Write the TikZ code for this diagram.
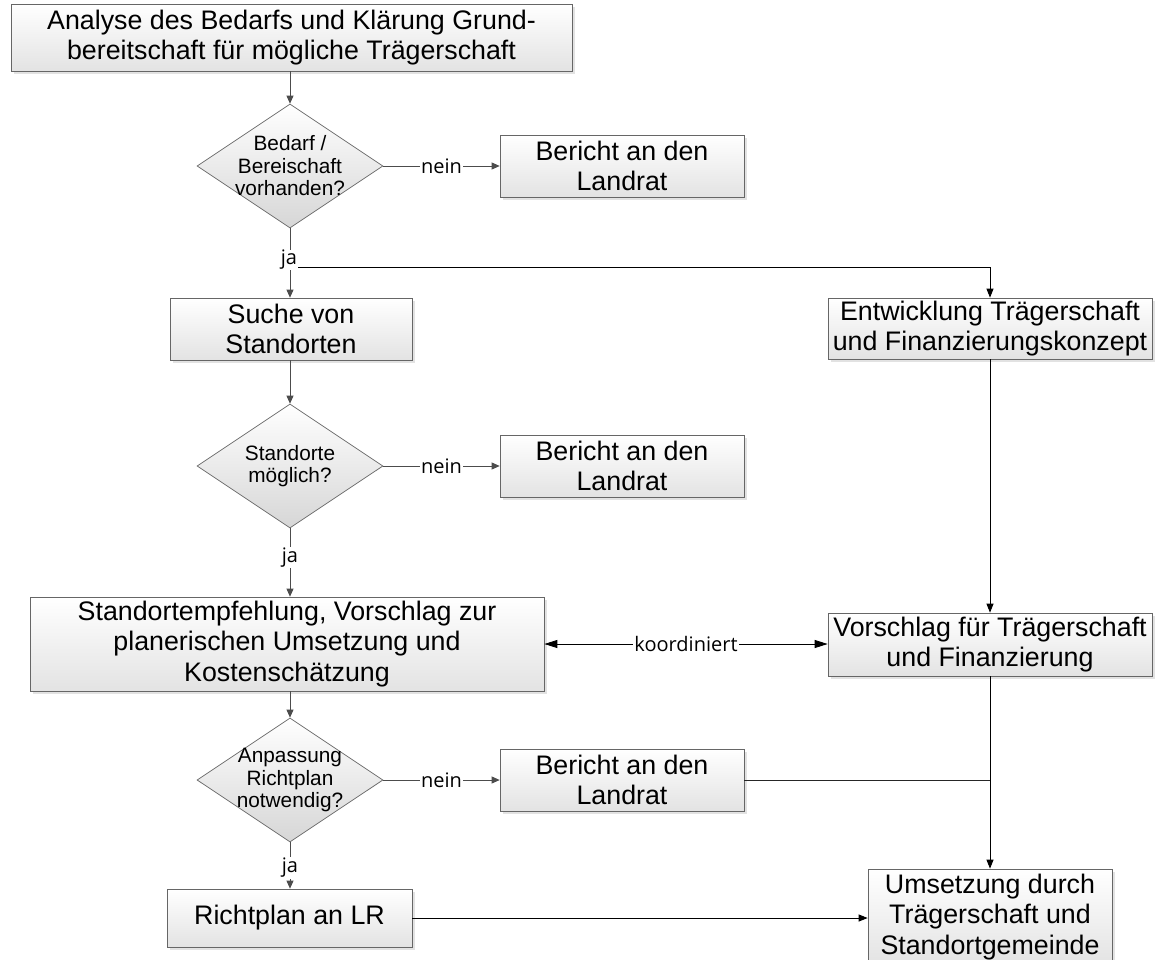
\documentclass[tikz,border=0pt]{standalone}
\usepackage{fontspec}
\setmainfont{Liberation Sans}
\newfontfamily\labelfont{Open Sans}
\usetikzlibrary{shapes.geometric,arrows.meta,shadows}
\begin{document}
\begin{tikzpicture}[x=1pt,y=-1pt,
  box/.style={rectangle, draw=black!60, line width=0.7pt, top color=white, bottom color=black!11,
    drop shadow={shadow xshift=2.5pt, shadow yshift=-2.5pt, fill=black!22},
    inner sep=0pt, align=center, font=\fontsize{26.8}{30.5}\selectfont},
  bericht/.style={box, minimum width=244pt, minimum height=62pt},
  dia/.style={diamond, draw=black!60, line width=0.7pt, top color=white, bottom color=black!16,
    inner sep=0pt, minimum width=186pt, minimum height=124pt},
  diatext/.style={inner sep=0pt, align=center, font=\fontsize{20.8}{22.5}\selectfont},
  lbl/.style={fill=white, inner sep=1pt, font=\labelfont\fontsize{20}{22}\selectfont},
  garrow/.style={draw=black!70, line width=0.8pt, -{Triangle[length=8pt,width=7pt]}},
  gline/.style={draw=black!70, line width=0.8pt},
  barrow/.style={draw=black, line width=0.9pt, -{Triangle[length=9pt,width=7pt]}},
  bline/.style={draw=black!85, line width=0.9pt},
  karrow/.style={draw=black, line width=0.9pt, {Triangle[length=13pt,width=8pt]}-{Triangle[length=13pt,width=8pt]}},
]
\useasboundingbox (0,0) rectangle (1156,959);
\fill[white] (0,0) rectangle (1156,959);

% nodes
\node[box, minimum width=561pt, minimum height=67pt] (top) at (291.5,37.5)
  {Analyse des Bedarfs und Klärung Grund-\\bereitschaft für mögliche Trägerschaft};
\node[dia] (d1) at (290,166) {};
\node[diatext] (d1t) at (290,166) {Bedarf /\\Bereischaft\\vorhanden?};
\node[bericht] (b1) at (622,166) {Bericht an den\\Landrat};
\node[box, minimum width=242pt, minimum height=62pt] (suche) at (291,329) {Suche von\\Standorten};
\node[box, minimum width=324pt, minimum height=61pt] (entw) at (990,328.5)
  {Entwicklung Trägerschaft\\und Finanzierungskonzept};
\node[dia] (d2) at (290,466) {};
\node[diatext] (d2t) at (290,466) {Standorte\\möglich?};
\node[bericht] (b2) at (622,466) {Bericht an den\\Landrat};
\node[box, minimum width=514pt, minimum height=94pt] (stand) at (287,644)
  {Standortempfehlung, Vorschlag zur\\planerischen Umsetzung und\\Kostenschätzung};
\node[box, minimum width=324pt, minimum height=63pt] (vor) at (990,644.5)
  {Vorschlag für Trägerschaft\\und Finanzierung};
\node[dia] (d3) at (290,780) {};
\node[diatext] (d3t) at (290,780) {Anpassung\\Richtplan\\notwendig?};
\node[bericht] (b3) at (622,780) {Bericht an den\\Landrat};
\node[box, minimum width=245pt, minimum height=58pt] (richt) at (289.5,918) {Richtplan an LR};
\node[box, minimum width=244pt, minimum height=96pt] (ums) at (990,917)
  {Umsetzung durch\\Trägerschaft und\\Standortgemeinde};

% connectors
\draw[garrow] (top.south -| d1.north) -- (d1.north);
\draw[garrow] (d1.east) -- node[lbl] (n1) {nein} (b1.west);
\coordinate (j1) at (290,267);
\draw[gline] (d1.south) -- (j1);
\draw[garrow] (j1) -- (j1 |- suche.north);
\draw[barrow] (j1) -| (entw.north);
\node[lbl, inner sep=0.5pt] (ja1) at (289,260) {ja};

\draw[garrow] (suche.south -| d2.north) -- (d2.north);
\draw[garrow] (d2.east) -- node[lbl] (n2) {nein} (b2.west);
\draw[garrow] (d2.south) -- node[lbl, pos=0.43] (ja2) {ja} (d2.south |- stand.north);

\draw[garrow] (stand.south -| d3.north) -- (d3.north);
\draw[garrow] (d3.east) -- node[lbl] (n3) {nein} (b3.west);
\draw[garrow] (d3.south) -- node[lbl, pos=0.55] (ja3) {ja} (d3.south |- richt.north);

\draw[barrow] (entw.south) -- (vor.north);
\draw[karrow] (stand.east) -- node[lbl] (k) {koordiniert} (stand.east -| vor.west);
\draw[barrow] (vor.south) -- (ums.north);
\coordinate (m3) at (vor.south |- b3.east);
\draw[bline] (b3.east) -- (m3);
\draw[barrow] (richt.east) -- (richt.east -| ums.west);
\end{tikzpicture}
\end{document}
